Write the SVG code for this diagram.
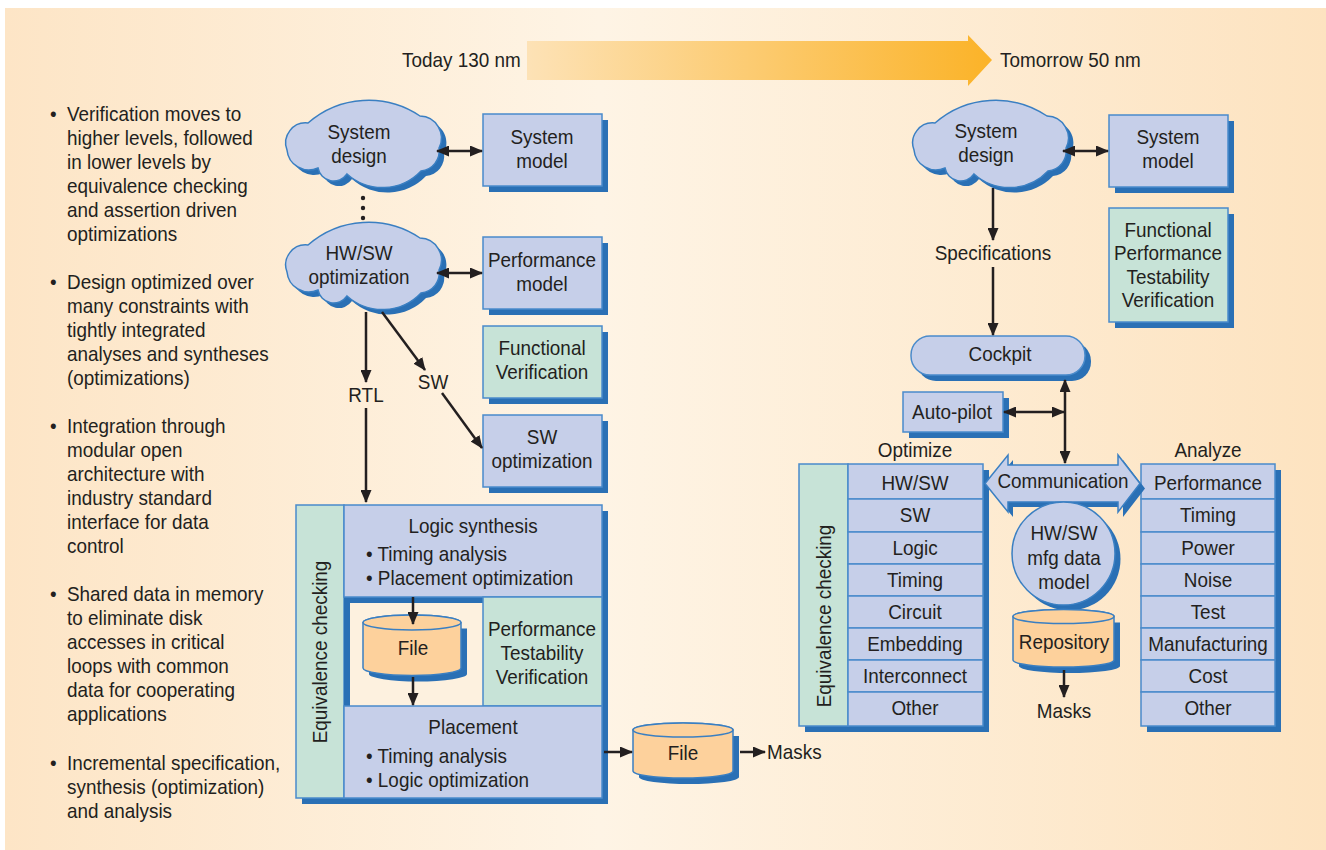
<svg xmlns="http://www.w3.org/2000/svg" xmlns:xlink="http://www.w3.org/1999/xlink" width="1326" height="850" viewBox="0 0 1326 850">
<defs>
<linearGradient id="bg" x1="0" y1="0" x2="1" y2="0">
<stop offset="0" stop-color="#fde5c6"/>
<stop offset="0.45" stop-color="#fef4e5"/>
<stop offset="1" stop-color="#fde3c0"/>
</linearGradient>
<linearGradient id="ar" x1="0" y1="0" x2="1" y2="0">
<stop offset="0" stop-color="#fde2b6"/>
<stop offset="1" stop-color="#fbb328"/>
</linearGradient>
<path id="cloud" d="M-76,4 A20,20 0 0 1 -55,-23 A92,92 0 0 1 57,-30 A22,22 0 0 1 76,2 A20,20 0 0 1 58,25 A53,53 0 0 1 -16,28 A16,16 0 0 1 -45,22 A22,22 0 0 1 -76,4 Z"/>
<marker id="ah" viewBox="0 0 13 11" refX="12" refY="5.5" markerWidth="13" markerHeight="11" markerUnits="userSpaceOnUse" orient="auto-start-reverse">
<path d="M0,0 L13,5.5 L0,11 Z" fill="#231f20"/>
</marker>
<style>
.t{font-family:"Liberation Sans",Arial,sans-serif;font-size:21px;fill:#231f20}
.c{text-anchor:middle}
.bx{fill:#c6cfe9;stroke:#4a8bcb;stroke-width:1.5}
.gr{fill:#c7e3d7;stroke:#4a8bcb;stroke-width:1.5}
.sh{fill:#2a70b5}
.fl{fill:#fdd19c;stroke:#3a7fc2;stroke-width:1.5}
.cl{fill:#c6cfe9;stroke:#3a7fc2;stroke-width:1.5}
.ln{stroke:#231f20;stroke-width:2.5;fill:none}
.e{marker-end:url(#ah)}
.b{marker-start:url(#ah);marker-end:url(#ah)}
</style>
</defs>

<rect x="5" y="8" width="1321" height="842" fill="url(#bg)"/>

<g id="timeline">
<polygon points="527,41 968,41 968,35 992,60 968,86 968,80 527,80" fill="url(#ar)"/>
<text class="t" transform="translate(402,67) scale(.9,1)">Today 130 nm</text>
<text class="t" transform="translate(1000,67) scale(.9,1)">Tomorrow 50 nm</text>
</g>

<g id="notes" class="t">
<text transform="translate(50,121) scale(.9,1)">•</text>
<text transform="translate(67,121) scale(.9,1)">Verification moves to<tspan x="0" dy="24">higher levels, followed</tspan><tspan x="0" dy="24">in lower levels by</tspan><tspan x="0" dy="24">equivalence checking</tspan><tspan x="0" dy="24">and assertion driven</tspan><tspan x="0" dy="24">optimizations</tspan></text>
<text transform="translate(50,289) scale(.9,1)">•</text>
<text transform="translate(67,289) scale(.9,1)">Design optimized over<tspan x="0" dy="24">many constraints with</tspan><tspan x="0" dy="24">tightly integrated</tspan><tspan x="0" dy="24">analyses and syntheses</tspan><tspan x="0" dy="24">(optimizations)</tspan></text>
<text transform="translate(50,433) scale(.9,1)">•</text>
<text transform="translate(67,433) scale(.9,1)">Integration through<tspan x="0" dy="24">modular open</tspan><tspan x="0" dy="24">architecture with</tspan><tspan x="0" dy="24">industry standard</tspan><tspan x="0" dy="24">interface for data</tspan><tspan x="0" dy="24">control</tspan></text>
<text transform="translate(50,601) scale(.9,1)">•</text>
<text transform="translate(67,601) scale(.9,1)">Shared data in memory<tspan x="0" dy="24">to eliminate disk</tspan><tspan x="0" dy="24">accesses in critical</tspan><tspan x="0" dy="24">loops with common</tspan><tspan x="0" dy="24">data for cooperating</tspan><tspan x="0" dy="24">applications</tspan></text>
<text transform="translate(50,770) scale(.9,1)">•</text>
<text transform="translate(67,770) scale(.9,1)">Incremental specification,<tspan x="0" dy="24">synthesis (optimization)</tspan><tspan x="0" dy="24">and analysis</tspan></text>
</g>

<!-- Left (today) -->
<g id="sysdesign1">
<use xlink:href="#cloud" x="368" y="151" class="sh"/>
<use xlink:href="#cloud" x="363" y="146" class="cl"/>
<text class="t c" transform="translate(359,139) scale(.9,1)">System</text>
<text class="t c" transform="translate(359,163) scale(.9,1)">design</text>
</g>
<g id="sysmodel1">
<rect class="sh" x="489" y="120" width="119" height="72"/>
<rect class="bx" x="483" y="114" width="119" height="72"/>
<text class="t c" transform="translate(542,144) scale(.9,1)">System</text>
<text class="t c" transform="translate(542,168) scale(.9,1)">model</text>
</g>
<g id="dots">
<circle cx="363" cy="198" r="2.2" fill="#231f20"/>
<circle cx="363" cy="208" r="2.2" fill="#231f20"/>
<circle cx="363" cy="218" r="2.2" fill="#231f20"/>
</g>
<g id="hwsw1">
<use xlink:href="#cloud" x="368" y="273" class="sh"/>
<use xlink:href="#cloud" x="363" y="268" class="cl"/>
<text class="t c" transform="translate(359,260) scale(.9,1)">HW/SW</text>
<text class="t c" transform="translate(359,284) scale(.9,1)">optimization</text>
</g>
<g id="perfmodel1">
<rect class="sh" x="489" y="243" width="119" height="72"/>
<rect class="bx" x="483" y="237" width="119" height="72"/>
<text class="t c" transform="translate(542,267) scale(.9,1)">Performance</text>
<text class="t c" transform="translate(542,291) scale(.9,1)">model</text>
</g>
<g id="funcver1">
<rect class="sh" x="489" y="332" width="119" height="72"/>
<rect class="gr" x="483" y="326" width="119" height="72"/>
<text class="t c" transform="translate(542,355) scale(.9,1)">Functional</text>
<text class="t c" transform="translate(542,379) scale(.9,1)">Verification</text>
</g>
<g id="swopt1">
<rect class="sh" x="489" y="421" width="119" height="72"/>
<rect class="bx" x="483" y="415" width="119" height="72"/>
<text class="t c" transform="translate(542,444) scale(.9,1)">SW</text>
<text class="t c" transform="translate(542,468) scale(.9,1)">optimization</text>
</g>
<g id="labels1">
<text class="t c" transform="translate(366,402) scale(.9,1)">RTL</text>
<text class="t c" transform="translate(433,389) scale(.9,1)">SW</text>
</g>

<g id="flowblock1">
<rect class="sh" x="302" y="511" width="306" height="293"/>
<rect class="gr" x="296" y="505" width="48" height="293"/>
<text class="t c" transform="translate(327,652) rotate(-90) scale(.9,1)">Equivalence checking</text>
<rect fill="#2a70b5" x="344" y="597" width="139" height="109"/>
<rect fill="#fdf1df" x="350" y="603" width="133" height="103"/>
</g>
<g id="logicsyn">
<rect class="bx" x="344" y="505" width="258" height="92"/>
<text class="t c" transform="translate(473,533) scale(.9,1)">Logic synthesis</text>
<text class="t" transform="translate(366,561) scale(.9,1)">• Timing analysis</text>
<text class="t" transform="translate(366,585) scale(.9,1)">• Placement optimization</text>
</g>
<g id="ptv">
<rect class="gr" x="483" y="597" width="119" height="109"/>
<text class="t c" transform="translate(542,636) scale(.9,1)">Performance</text>
<text class="t c" transform="translate(542,660) scale(.9,1)">Testability</text>
<text class="t c" transform="translate(542,684) scale(.9,1)">Verification</text>
</g>
<g id="file1">
<path class="sh" d="M369,628.5 L369,674 A49,7.5 0 0 0 467,674 L467,628.5 Z"/>
<path class="fl" d="M363,622.5 L363,668 A49,7.5 0 0 0 461,668 L461,622.5 A49,7.5 0 0 0 363,622.5 Z"/>
<ellipse class="fl" cx="412" cy="622.5" rx="49" ry="7.5"/>
<text class="t c" transform="translate(413,655) scale(.9,1)">File</text>
</g>
<g id="placement">
<rect class="bx" x="344" y="706" width="258" height="92"/>
<text class="t c" transform="translate(473,734) scale(.9,1)">Placement</text>
<text class="t" transform="translate(366,763) scale(.9,1)">• Timing analysis</text>
<text class="t" transform="translate(366,787) scale(.9,1)">• Logic optimization</text>
</g>
<g id="file2">
<path class="sh" d="M639,736 L639,777 A50,7 0 0 0 739,777 L739,736 Z"/>
<path class="fl" d="M633,730 L633,771 A50,7 0 0 0 733,771 L733,730 A50,7 0 0 0 633,730 Z"/>
<ellipse class="fl" cx="683" cy="730" rx="50" ry="7"/>
<text class="t c" transform="translate(683,760) scale(.9,1)">File</text>
</g>
<g id="masks1">
<text class="t" transform="translate(767,759) scale(.9,1)">Masks</text>
</g>

<!-- Right (tomorrow) -->
<g id="sysdesign2">
<use xlink:href="#cloud" x="995" y="151" class="sh"/>
<use xlink:href="#cloud" x="990" y="146" class="cl"/>
<text class="t c" transform="translate(986,138) scale(.9,1)">System</text>
<text class="t c" transform="translate(986,162) scale(.9,1)">design</text>
</g>
<g id="sysmodel2">
<rect class="sh" x="1115" y="121" width="119" height="72"/>
<rect class="bx" x="1109" y="115" width="119" height="72"/>
<text class="t c" transform="translate(1168,144) scale(.9,1)">System</text>
<text class="t c" transform="translate(1168,168) scale(.9,1)">model</text>
</g>
<g id="fptv2">
<rect class="sh" x="1115" y="214" width="119" height="114"/>
<rect class="gr" x="1109" y="208" width="119" height="114"/>
<text class="t c" transform="translate(1168,237) scale(.9,1)">Functional</text>
<text class="t c" transform="translate(1168,260) scale(.9,1)">Performance</text>
<text class="t c" transform="translate(1168,284) scale(.9,1)">Testability</text>
<text class="t c" transform="translate(1168,307) scale(.9,1)">Verification</text>
</g>
<g id="specs">
<text class="t c" transform="translate(993,260) scale(.9,1)">Specifications</text>
</g>
<g id="cockpit">
<rect class="sh" x="917" y="342" width="174" height="39" rx="19"/>
<rect class="bx" x="911" y="336" width="174" height="39" rx="19"/>
<text class="t c" transform="translate(1000,361) scale(.9,1)">Cockpit</text>
</g>
<g id="autopilot">
<rect class="sh" x="909" y="398" width="100" height="40"/>
<rect class="bx" x="903" y="392" width="100" height="40"/>
<text class="t c" transform="translate(952,419) scale(.9,1)">Auto-pilot</text>
</g>
<g id="optimize">
<text class="t c" transform="translate(915,457) scale(.9,1)">Optimize</text>
<rect class="sh" x="805" y="470" width="184" height="262"/>
<rect class="gr" x="799" y="464" width="49" height="262"/>
<text class="t c" transform="translate(831,616) rotate(-90) scale(.9,1)">Equivalence checking</text>
<rect class="bx" x="848" y="464" width="135" height="35"/>
<rect class="bx" x="848" y="499" width="135" height="33"/>
<rect class="bx" x="848" y="532" width="135" height="32"/>
<rect class="bx" x="848" y="564" width="135" height="32"/>
<rect class="bx" x="848" y="596" width="135" height="32"/>
<rect class="bx" x="848" y="628" width="135" height="32"/>
<rect class="bx" x="848" y="660" width="135" height="32"/>
<rect class="bx" x="848" y="692" width="135" height="34"/>
<text class="t c" transform="translate(915,490) scale(.9,1)">HW/SW</text>
<text class="t c" transform="translate(915,522) scale(.9,1)">SW</text>
<text class="t c" transform="translate(915,555) scale(.9,1)">Logic</text>
<text class="t c" transform="translate(915,587) scale(.9,1)">Timing</text>
<text class="t c" transform="translate(915,619) scale(.9,1)">Circuit</text>
<text class="t c" transform="translate(915,651) scale(.9,1)">Embedding</text>
<text class="t c" transform="translate(915,683) scale(.9,1)">Interconnect</text>
<text class="t c" transform="translate(915,715) scale(.9,1)">Other</text>
</g>
<g id="analyze">
<text class="t c" transform="translate(1208,457) scale(.9,1)">Analyze</text>
<rect class="sh" x="1147" y="470" width="134" height="262"/>
<rect class="bx" x="1141" y="464" width="134" height="35"/>
<rect class="bx" x="1141" y="499" width="134" height="33"/>
<rect class="bx" x="1141" y="532" width="134" height="32"/>
<rect class="bx" x="1141" y="564" width="134" height="32"/>
<rect class="bx" x="1141" y="596" width="134" height="32"/>
<rect class="bx" x="1141" y="628" width="134" height="32"/>
<rect class="bx" x="1141" y="660" width="134" height="32"/>
<rect class="bx" x="1141" y="692" width="134" height="34"/>
<text class="t c" transform="translate(1208,490) scale(.9,1)">Performance</text>
<text class="t c" transform="translate(1208,522) scale(.9,1)">Timing</text>
<text class="t c" transform="translate(1208,555) scale(.9,1)">Power</text>
<text class="t c" transform="translate(1208,587) scale(.9,1)">Noise</text>
<text class="t c" transform="translate(1208,619) scale(.9,1)">Test</text>
<text class="t c" transform="translate(1208,651) scale(.9,1)">Manufacturing</text>
<text class="t c" transform="translate(1208,683) scale(.9,1)">Cost</text>
<text class="t c" transform="translate(1208,715) scale(.9,1)">Other</text>
</g>
<g id="communication">
<polygon class="sh" points="990,488.5 1013,460 1013,470 1123,470 1123,460 1145,488.5 1123,517 1123,507 1013,507 1013,517"/>
<polygon class="cl" points="985,483.5 1008,455 1008,465 1118,465 1118,455 1140,483.5 1118,512 1118,502 1008,502 1008,512"/>
<text class="t c" transform="translate(1063,488) scale(.9,1)">Communication</text>
</g>
<g id="datamodel">
<circle class="sh" cx="1069" cy="559" r="51.5"/>
<circle class="cl" cx="1063.5" cy="553.5" r="51.5"/>
<text class="t c" transform="translate(1064,540) scale(.9,1)">HW/SW</text>
<text class="t c" transform="translate(1064,565) scale(.9,1)">mfg data</text>
<text class="t c" transform="translate(1064,589) scale(.9,1)">model</text>
</g>
<g id="repository">
<path class="sh" d="M1019,622.5 L1019,666 A50.5,7 0 0 0 1120,666 L1120,622.5 Z"/>
<path class="fl" d="M1013,616.5 L1013,660 A50.5,7 0 0 0 1114,660 L1114,616.5 A50.5,7 0 0 0 1013,616.5 Z"/>
<ellipse class="fl" cx="1063.5" cy="616.5" rx="50.5" ry="7"/>
<text class="t c" transform="translate(1064,649) scale(.9,1)">Repository</text>
</g>
<g id="masks2">
<text class="t c" transform="translate(1064,718) scale(.9,1)">Masks</text>
</g>

<g id="connectors" class="ln">
<line class="b" x1="437" y1="151" x2="482" y2="151"/>
<line class="b" x1="437" y1="273" x2="482" y2="273"/>
<line class="e" x1="366" y1="312" x2="366" y2="382"/>
<line class="e" x1="366" y1="408" x2="366" y2="502"/>
<line class="e" x1="382" y1="312" x2="425" y2="370"/>
<line class="e" x1="442" y1="393" x2="482" y2="448"/>
<line class="e" x1="413" y1="597" x2="413" y2="624"/>
<line class="e" x1="413" y1="677" x2="413" y2="705"/>
<line class="e" x1="604" y1="752" x2="632" y2="752"/>
<line class="e" x1="740" y1="752" x2="765" y2="752"/>
<line class="b" x1="1063" y1="151" x2="1108" y2="151"/>
<line class="e" x1="993" y1="188" x2="993" y2="240"/>
<line class="e" x1="993" y1="267" x2="993" y2="335"/>
<line class="b" x1="1065" y1="380" x2="1065" y2="463"/>
<line class="b" x1="1004" y1="412" x2="1064" y2="412"/>
<line class="e" x1="1064" y1="670" x2="1064" y2="697"/>
</g>
</svg>
